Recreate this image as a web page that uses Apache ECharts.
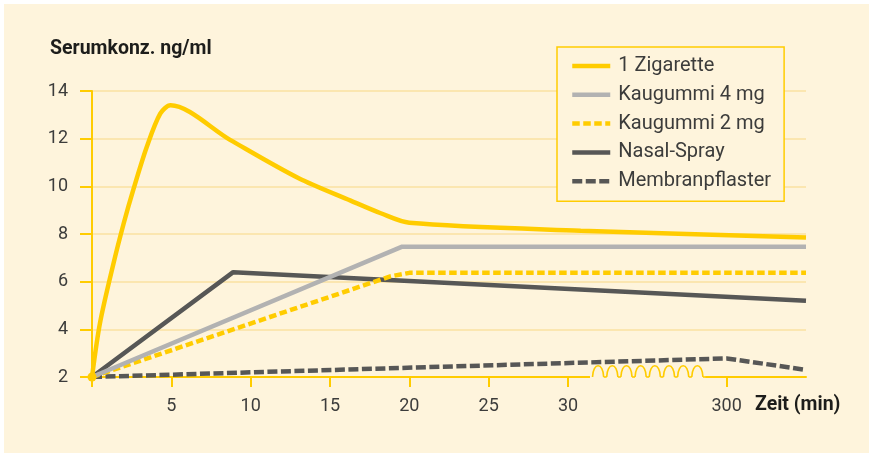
<!DOCTYPE html>
<html>
<head>
<meta charset="utf-8">
<script src="https://cdn.jsdelivr.net/npm/echarts@6/dist/echarts.min.js"></script>
<style>
  html, body { margin: 0; padding: 0; background: #fff; }
  #bg { position: absolute; left: 4px; top: 4px; width: 865px; height: 449px; background: #fef4dc; }
  #chart { position: absolute; left: 0; top: 0; width: 869px; height: 453px; }
</style>
</head>
<body>
<div id="bg"></div>
<div id="chart"></div>
<script>
// x positions are axis positions: 0..30 minutes, 40 stands for 300 min (after the break)
const xTickValues = [0, 5, 10, 15, 20, 25, 30, 40]
const xLabelValues = [5, 10, 15, 20, 25, 30, 40]
const xLabelText = { 40: '300' }

const zigarette = [[0, 2], [0.5, 4.25], [1.35, 6.75], [2, 8.45], [2.6, 9.85], [3.45, 11.65],
  [4.3, 13.05], [4.95, 13.4], [8.7, 11.95], [13, 10.35], [16.3, 9.4],
  [18.2, 8.87], [20, 8.47], [30.8, 8.14], [45, 7.85]]
const kaugummi4 = [[0, 2], [19.55, 7.47], [45, 7.47]]
const kaugummi2 = [[0, 2], [18.8, 6.22], [20, 6.37], [45, 6.37]]
const nasalSpray = [[0, 2], [8.9, 6.4], [45, 5.2]]
const membranpflaster = [[0, 2], [40, 2.78], [45, 2.3]]

// axis break drawn between these two axis positions
const breakFrom = 31.45
const breakTo = 38.6

const YELLOW = '#ffcc00'
const GREY = '#b2b2b2'
const DARK = '#575756'
const CREAM = '#fef4dc'
const FONT = 'Roboto'

const chart = echarts.init(document.getElementById('chart'))

const firstDot = (data) => data.map((d, i) =>
  i === 0 ? { value: d, symbol: 'circle', symbolSize: 9 } : d)

chart.setOption({
  backgroundColor: 'transparent',
  animation: false,
  textStyle: { fontFamily: FONT },
  grid: { left: 92, right: 63, top: 91, bottom: 76 },
  legend: {
    orient: 'vertical',
    left: 557,
    top: 47,
    padding: [9, 13, 10, 13],
    itemGap: 8.8,
    itemWidth: 38,
    itemHeight: 14,
    backgroundColor: CREAM,
    borderColor: YELLOW,
    borderWidth: 1.5,
    borderRadius: 0,
    itemStyle: { opacity: 0 },
    lineStyle: { width: 4.5 },
    textStyle: { color: '#3c3c3b', fontSize: 20, lineHeight: 20, fontFamily: FONT, padding: [0, 0, 0, 3] },
    data: ['1 Zigarette', 'Kaugummi 4 mg', 'Kaugummi 2 mg', 'Nasal-Spray', 'Membranpflaster'],
  },
  xAxis: {
    type: 'value',
    min: 0,
    max: 45,
    interval: 5,
    axisLine: { lineStyle: { color: YELLOW, width: 2 } },
    axisTick: { customValues: xTickValues, length: 10, lineStyle: { color: YELLOW, width: 2 } },
    axisLabel: {
      customValues: xLabelValues,
      margin: 20,
      fontSize: 18,
      color: '#3c3c3b',
      formatter: (v) => xLabelText[v] || String(v),
    },
    splitLine: { show: false },
  },
  yAxis: {
    type: 'value',
    min: 2,
    max: 14,
    interval: 2,
    axisLine: { show: true, lineStyle: { color: YELLOW, width: 2 } },
    axisTick: { show: true, length: 12, lineStyle: { color: YELLOW, width: 2 } },
    axisLabel: { margin: 24, fontSize: 18, color: '#3c3c3b' },
    splitLine: { lineStyle: { color: '#fbe6b0', width: 2 } },
  },
  series: [
    {
      name: 'Membranpflaster', type: 'line', data: membranpflaster, symbol: 'none',
      lineStyle: { color: DARK, width: 4.5, type: [10, 3.5] }, itemStyle: { color: DARK },
    },
    {
      name: 'Nasal-Spray', type: 'line', data: nasalSpray, symbol: 'none',
      lineStyle: { color: DARK, width: 4.5 }, itemStyle: { color: DARK },
    },
    {
      name: 'Kaugummi 2 mg', type: 'line', data: kaugummi2, symbol: 'none',
      lineStyle: { color: YELLOW, width: 4.5, type: [7.5, 3.5] }, itemStyle: { color: YELLOW },
    },
    {
      name: 'Kaugummi 4 mg', type: 'line', data: kaugummi4, symbol: 'none',
      lineStyle: { color: GREY, width: 4.5 }, itemStyle: { color: GREY },
    },
    {
      name: '1 Zigarette', type: 'line', data: firstDot(zigarette), symbol: 'none',
      smooth: 0.3,
      lineStyle: { color: YELLOW, width: 4.5 }, itemStyle: { color: YELLOW },
    },
  ],
})

// axis break arches + axis texts
const y0 = chart.convertToPixel({ yAxisIndex: 0 }, 2)
const xa = chart.convertToPixel({ xAxisIndex: 0 }, breakFrom)
const xb = chart.convertToPixel({ xAxisIndex: 0 }, breakTo)
const n = 8
const step = (xb - xa) / n
const arches = []
for (let i = 0; i < n; i++) {
  const s = xa + i * step + 1.5
  const e = s + step - 3
  arches.push({
    type: 'bezierCurve', z: 51,
    shape: { x1: s, y1: y0, cpx1: s + 0.5, cpy1: y0 - 15, cpx2: e - 0.5, cpy2: y0 - 15, x2: e, y2: y0 },
    style: { fill: null, stroke: YELLOW, lineWidth: 1.6 },
  })
  arches.push({
    type: 'line', z: 51,
    shape: { x1: e, y1: y0, x2: e + 3, y2: y0 },
    style: { stroke: YELLOW, lineWidth: 1.6 },
  })
}

chart.setOption({
  graphic: [
    {
      type: 'rect', z: 50,
      shape: { x: xa - 1, y: y0 - 1.5, width: xb - xa + 2, height: 3 },
      style: { fill: CREAM },
    },
    ...arches,
    {
      type: 'text', left: 50, top: 39, z: 60,
      style: { text: 'Serumkonz. ng/ml', fontSize: 19.5, fontWeight: 'bold', fill: '#1d1d1b', fontFamily: FONT },
    },
    {
      type: 'text', left: 755, top: 395, z: 60,
      style: { text: 'Zeit (min)', fontSize: 19.5, fontWeight: 'bold', fill: '#1d1d1b', fontFamily: FONT },
    },
  ],
})
</script>
</body>
</html>
